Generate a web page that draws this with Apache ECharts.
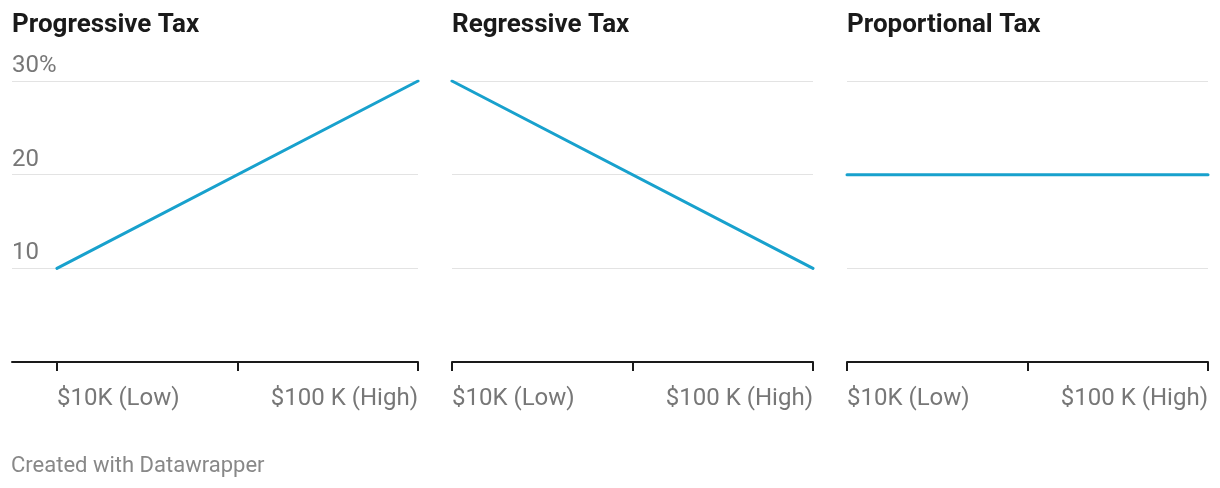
<!DOCTYPE html>
<html>
<head>
<meta charset="utf-8">
<script src="https://cdn.jsdelivr.net/npm/echarts@6/dist/echarts.min.js"></script>
<style>
html,body{margin:0;padding:0;background:#fff;}
#c{width:1220px;height:488px;}
</style>
</head>
<body>
<div id="c"></div>
<script>
// Data
const panelTitles = ['Progressive Tax', 'Regressive Tax', 'Proportional Tax'];
const incomeK = [10, 100];                 // income in $K
const xTicks = [10, 55, 100];
const xLabelLow = '$10K (Low)';
const xLabelHigh = '$100 K (High)';
const progressive = [10, 30];
const regressive = [30, 10];
const proportional = [20, 20];
const yTicks = [10, 20, 30];
const footer = 'Created with Datawrapper';

const seriesValues = [progressive, regressive, proportional];

const FONT = 'Roboto';
const LINE_COLOR = '#18a1cd';
const grids = [
  {left: 12, width: 406, xmin: -1.2},
  {left: 452, width: 361, xmin: 10},
  {left: 847, width: 361, xmin: 10}
];

const option = {
  animation: false,
  textStyle: {fontFamily: FONT},
  title: [],
  grid: [],
  xAxis: [],
  yAxis: [],
  series: []
};

grids.forEach((g, i) => {
  option.title.push({
    text: panelTitles[i], left: g.left, top: 12, padding: 0,
    textStyle: {fontFamily: FONT, fontWeight: 'bold', fontSize: 26, color: '#1a1a1a'}
  });
  option.grid.push({left: g.left, width: g.width, top: 81, height: 281, outerBoundsMode: 'none', containLabel: false});
  const common = {
    type: 'value', gridIndex: i, min: g.xmin, max: 100, position: 'bottom', offset: 0,
    splitLine: {show: false}
  };
  // axis with line, ticks and low label
  option.xAxis.push(Object.assign({}, common, {
    z: 5,
    axisLine: {show: true, lineStyle: {color: '#1a1a1a', width: 2}},
    axisTick: {show: true, customValues: xTicks, length: 9, lineStyle: {color: '#1a1a1a', width: 2}},
    axisLabel: {show: true, customValues: [incomeK[0]], formatter: () => xLabelLow,
      align: 'left', margin: 25, fontSize: 24, color: '#777', fontFamily: FONT}
  }));
  // axis carrying only the high label
  option.xAxis.push(Object.assign({}, common, {
    axisLine: {show: false}, axisTick: {show: false},
    axisLabel: {show: true, customValues: [incomeK[1]], formatter: () => xLabelHigh,
      align: 'right', margin: 25, fontSize: 24, color: '#777', fontFamily: FONT}
  }));
  option.yAxis.push({
    type: 'value', gridIndex: i, min: 0, max: 30, interval: 10,
    axisLine: {show: false}, axisTick: {show: false},
    splitLine: {show: true, lineStyle: {color: '#e3e3e3', width: 1}},
    axisLabel: {
      show: i === 0, inside: true, customValues: yTicks, margin: 0,
      align: 'left', verticalAlign: 'bottom', padding: [0, 0, 3, 0],
      fontSize: 24, color: '#777', fontFamily: FONT,
      formatter: v => v === 30 ? v + '%' : String(v)
    }
  });
  option.series.push({
    type: 'line', xAxisIndex: i * 2, yAxisIndex: i,
    data: incomeK.map((x, k) => [x, seriesValues[i][k]]),
    showSymbol: false, symbol: 'none',
    lineStyle: {color: LINE_COLOR, width: 3, cap: 'round'},
    z: 3
  });
});

option.title.push({
  text: footer, left: 11, top: 455, padding: 0,
  textStyle: {fontFamily: FONT, fontWeight: 'normal', fontSize: 22, color: '#888'}
});

const chart = echarts.init(document.getElementById('c'), null, {renderer: 'canvas'});
chart.setOption(option);
</script>
</body>
</html>
